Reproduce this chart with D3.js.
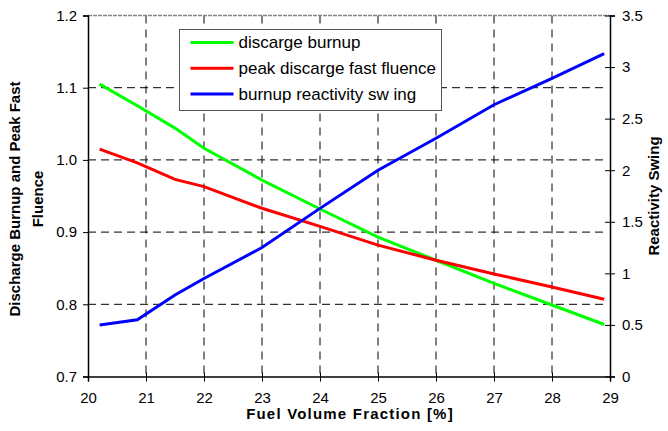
<!DOCTYPE html>
<html>
<head>
<meta charset="utf-8">
<script src="https://cdn.jsdelivr.net/npm/d3@7"></script>
<style>
  body { margin: 0; background: #fff; }
  text { font-family: "Liberation Sans", Arial, sans-serif; fill: #000; }
</style>
</head>
<body>
<div id="chart"></div>
<script>
// data
var fraction = [20.2, 20.85, 21.5, 22, 23, 24, 25, 26, 27, 28, 28.9];
var burnup   = [1.105, 1.075, 1.044, 1.016, 0.972, 0.932, 0.893, 0.861, 0.829, 0.799, 0.772];
var fluence  = [1.015, 0.996, 0.973, 0.963, 0.933, 0.908, 0.882, 0.861, 0.842, 0.824, 0.807];
var swing    = [0.50, 0.55, 0.79, 0.95, 1.25, 1.63, 2.00, 2.31, 2.635, 2.89, 3.13];

var xTicks = [20, 21, 22, 23, 24, 25, 26, 27, 28, 29];
var leftTicks = [0.7, 0.8, 0.9, 1.0, 1.1, 1.2];
var rightTicks = [0, 0.5, 1, 1.5, 2, 2.5, 3, 3.5];

var seriesNames = ["discarge burnup", "peak discarge fast fluence", "burnup reactivity sw ing"];
var seriesColors = ["#00ff00", "#ff0000", "#0000ff"];

var W = 668, H = 431;
var margin = {top: 15.5, right: 58, bottom: 54.5, left: 88};
var width = W - margin.left - margin.right,
    height = H - margin.top - margin.bottom;

var svg = d3.select("#chart").append("svg")
    .attr("width", W)
    .attr("height", H);

var g = svg.append("g")
    .attr("transform", "translate(" + margin.left + "," + margin.top + ")");

var x = d3.scaleLinear().domain([20, 29]).range([0, width]);
var yL = d3.scaleLinear().domain([0.7, 1.2]).range([height, 0]);
var yR = d3.scaleLinear().domain([0, 3.5]).range([height, 0]);

// grid
g.append("g").selectAll("line")
  .data(xTicks.slice(1, -1))
  .enter().append("line")
    .attr("x1", function(d) { return x(d); })
    .attr("x2", function(d) { return x(d); })
    .attr("y1", 0).attr("y2", height)
    .attr("stroke", "#000").attr("stroke-width", 1)
    .attr("stroke-dasharray", "8,6");

g.append("g").selectAll("line")
  .data(leftTicks.slice(1, -1))
  .enter().append("line")
    .attr("x1", 0).attr("x2", width - 5)
    .attr("y1", function(d) { return yL(d); })
    .attr("y2", function(d) { return yL(d); })
    .attr("stroke", "#000").attr("stroke-width", 1)
    .attr("stroke-dasharray", "8,5");

// top border of plot area
g.append("line")
  .attr("x1", 0).attr("x2", width).attr("y1", 0).attr("y2", 0)
  .attr("stroke", "#888").attr("stroke-width", 1.5)
  .attr("stroke-dasharray", "4,1");

// axes
var xAxis = g.append("g")
  .attr("transform", "translate(0," + height + ")")
  .call(d3.axisBottom(x).tickValues(xTicks).tickFormat(d3.format("d")).tickSize(5).tickPadding(11));
xAxis.selectAll(".tick line").attr("y1", -4);

var leftAxis = g.append("g")
  .call(d3.axisLeft(yL).tickValues(leftTicks).tickFormat(d3.format(".1f")).tickSize(5).tickPadding(6));

var rightAxis = g.append("g")
  .attr("transform", "translate(" + width + ",0)")
  .call(d3.axisRight(yR).tickValues(rightTicks).tickFormat(function(d) { return d; }).tickSize(5).tickPadding(7));
rightAxis.selectAll(".tick line").attr("x1", -5);

[xAxis, leftAxis, rightAxis].forEach(function(a) {
  a.selectAll("text").style("font-size", "15px").style("font-family", "Liberation Sans, Arial, sans-serif");
  a.select(".domain").attr("stroke", "#000").attr("stroke-width", 1.5);
  a.selectAll(".tick line").attr("stroke", "#000");
});

// lines
var lineL = d3.line()
  .x(function(d, i) { return x(fraction[i]); })
  .y(function(d) { return yL(d); });
var lineR = d3.line()
  .x(function(d, i) { return x(fraction[i]); })
  .y(function(d) { return yR(d); });

g.append("path").datum(burnup)
  .attr("fill", "none").attr("stroke", seriesColors[0]).attr("stroke-width", 3)
  .attr("d", lineL);
g.append("path").datum(fluence)
  .attr("fill", "none").attr("stroke", seriesColors[1]).attr("stroke-width", 3)
  .attr("d", lineL);
g.append("path").datum(swing)
  .attr("fill", "none").attr("stroke", seriesColors[2]).attr("stroke-width", 3)
  .attr("d", lineR);

// axis titles
svg.append("text")
  .attr("x", margin.left + width / 2 + 1).attr("y", 419)
  .attr("text-anchor", "middle")
  .style("font-size", "15px").style("font-weight", "bold")
  .style("letter-spacing", "1.2px")
  .text("Fuel Volume Fraction [%]");

svg.append("text")
  .attr("transform", "translate(20,199) rotate(-90)")
  .attr("text-anchor", "middle")
  .style("font-size", "15px").style("font-weight", "bold")
  .text("Discharge Burnup and Peak Fast");
svg.append("text")
  .attr("transform", "translate(43,199) rotate(-90)")
  .attr("text-anchor", "middle")
  .style("font-size", "15px").style("font-weight", "bold")
  .text("Fluence");

svg.append("text")
  .attr("transform", "translate(659,196) rotate(-90)")
  .attr("text-anchor", "middle")
  .style("font-size", "15px").style("font-weight", "bold")
  .text("Reactivity Swing");

// legend
var legend = svg.append("g").attr("transform", "translate(179.5,29.5)");
legend.append("rect")
  .attr("width", 262).attr("height", 81)
  .attr("fill", "#fff").attr("stroke", "#555").attr("stroke-width", 1);

seriesNames.forEach(function(name, i) {
  var yy = 13 + i * 25.7;
  legend.append("line")
    .attr("x1", 11).attr("x2", 54).attr("y1", yy).attr("y2", yy)
    .attr("stroke", seriesColors[i]).attr("stroke-width", 3);
  legend.append("text")
    .attr("x", 59).attr("y", yy)
    .attr("dy", "0.35em")
    .style("font-size", "17px")
    .text(name);
});
</script>
</body>
</html>
